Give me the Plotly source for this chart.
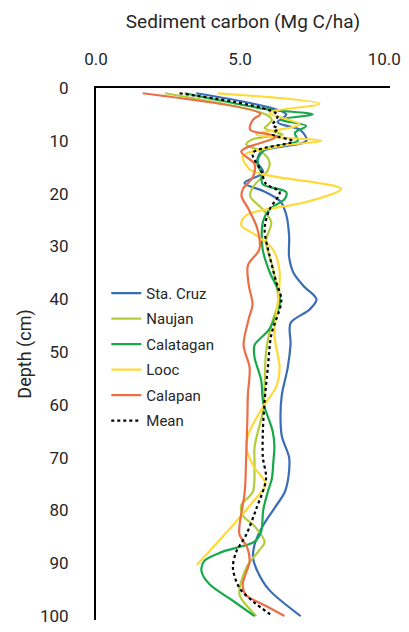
import plotly.graph_objects as go

# Sediment carbon (Mg C/ha) by depth (cm) for each site
sta_cruz_depth = [1, 5, 6.5, 8, 10, 12, 14, 16, 18, 19.5, 21.5, 24, 28, 32, 35, 37.5, 40, 42, 44.5, 48.5, 53, 58, 62, 66, 70, 73.5, 76.5, 79.5, 83, 86.5, 89, 91.5, 95, 100]
sta_cruz_c = [3.48, 6.6, 6.3, 7.1, 7.3, 5.75, 5.6, 5.8, 5.15, 5.8, 6.4, 6.6, 6.7, 6.7, 6.85, 7.2, 7.65, 7.4, 6.75, 6.75, 6.65, 6.45, 6.4, 6.45, 6.7, 6.68, 6.55, 6.2, 5.78, 5.5, 5.45, 5.6, 6.0, 7.1]

naujan_depth = [1, 5, 6, 7, 7.6, 8.8, 9.7, 10.7, 12, 14, 15.7, 18.8, 20.5, 23, 25.4, 29, 34, 39, 41, 44.5, 50, 56, 61, 65, 68, 71.5, 76.5, 79, 81, 83, 86, 87.5, 90.3, 93.4, 96, 100]
naujan_c = [2.39, 5.9, 6.1, 5.96, 5.85, 6.48, 5.44, 5.21, 5.73, 6.02, 5.95, 5.44, 5.35, 5.79, 6.08, 5.9, 6.13, 6.31, 6.31, 6.1, 5.9, 5.85, 5.8, 5.62, 5.5, 5.5, 5.44, 5.04, 5.1, 5.5, 5.85, 5.67, 5.27, 5.04, 4.98, 5.56]

calatagan_depth = [1, 4, 5, 6, 7.2, 8.5, 10, 11.5, 13, 14.4, 16, 18.2, 19.7, 21, 23, 25.4, 30.5, 34.8, 39, 41, 45.6, 48.7, 51, 55.3, 59.5, 65, 68, 70.3, 74, 76.5, 80, 84, 85.9, 87.8, 89.6, 91.5, 94, 97.1, 100]
calatagan_c = [3.08, 5.9, 7.52, 6.4, 7.29, 6.9, 7.0, 5.9, 5.65, 5.6, 5.73, 5.78, 6.6, 6.55, 6.02, 5.79, 5.78, 6.02, 6.37, 6.37, 6.02, 5.5, 5.5, 5.73, 5.8, 6.13, 6.19, 6.16, 6.1, 5.96, 5.8, 5.73, 5.5, 4.4, 3.75, 3.66, 3.94, 4.75, 5.5]

looc_depth = [1, 3, 4.7, 6.9, 8.8, 10, 11, 12.9, 15.4, 16.6, 19.1, 21.6, 24.1, 26, 27.9, 30.5, 34.8, 41, 46.8, 53, 56.6, 60.4, 65, 67.8, 71.5, 75, 78.4, 82.8, 90.3]
looc_c = [4.23, 7.75, 6.02, 7.06, 5.56, 7.81, 6.37, 5.1, 5.33, 6.02, 8.5, 7.29, 5.21, 5.04, 5.56, 6.13, 6.37, 6.3, 6.19, 6.37, 6.25, 5.79, 5.33, 5.21, 5.45, 5.88, 5.44, 4.75, 3.5]

calapan_depth = [1, 4.9, 6, 7.9, 9.2, 12, 14.4, 16.9, 19.1, 20.5, 23, 26.7, 30.5, 33.6, 37.3, 41, 43.7, 48.7, 53, 58, 63, 70, 76.5, 82.8, 84.6, 87.1, 89.6, 94, 96, 98.1, 100]
calapan_c = [1.62, 5.7, 5.45, 5.35, 6.25, 5.04, 5.5, 5.44, 5.1, 5.05, 5.3, 5.6, 5.67, 5.27, 5.3, 5.43, 5.3, 5.12, 5.33, 5.27, 5.25, 5.21, 5.16, 4.98, 4.98, 5.25, 5.33, 5.09, 5.2, 5.9, 6.54]

mean_depth = [1, 5.1, 7, 7.7, 8.8, 10.1, 12.3, 15.7, 18.2, 19.7, 23, 26.7, 31.7, 36.7, 40.2, 46.8, 53.1, 59.3, 65, 70, 74, 79.7, 84.6, 87.8, 90.9, 94.7, 97.2, 100]
mean_c = [2.9, 6.3, 6.13, 6.3, 6.13, 6.83, 5.44, 5.73, 5.9, 6.37, 6.02, 5.85, 6.02, 6.25, 6.43, 6.08, 5.96, 5.85, 5.79, 5.79, 5.9, 5.56, 5.21, 4.87, 4.75, 4.98, 5.44, 6.13]

x_ticks = [0, 5, 10]
y_ticks = [0, 10, 20, 30, 40, 50, 60, 70, 80, 90, 100]

FONT = "Roboto"

series = [
    ("Sta. Cruz", sta_cruz_depth, sta_cruz_c, "#3A6DB5", "solid"),
    ("Naujan", naujan_depth, naujan_c, "#B4CC3A", "solid"),
    ("Calatagan", calatagan_depth, calatagan_c, "#17A84A", "solid"),
    ("Looc", looc_depth, looc_c, "#FFD93A", "solid"),
    ("Calapan", calapan_depth, calapan_c, "#EB6E45", "solid"),
    ("Mean", mean_depth, mean_c, "#000000", "dot"),
]

fig = go.Figure()
for name, depth, carbon, color, dash in series:
    fig.add_trace(go.Scatter(
        x=carbon, y=depth, name=name, mode="lines",
        line=dict(color=color, width=2.2, dash=dash, shape="spline", smoothing=0.9),
        legendgroup=name,
    ))

fig.update_layout(
    width=409, height=632,
    margin=dict(l=96, r=19, t=88, b=6),
    paper_bgcolor="white", plot_bgcolor="white",
    font=dict(family=FONT, size=17, color="#262626"),
    showlegend=True,
    legend=dict(
        x=0.035, y=0.645, xanchor="left", yanchor="top",
        bgcolor="rgba(0,0,0,0)", font=dict(size=15, color="#262626"),
        tracegroupgap=3, itemwidth=30,
    ),
    xaxis=dict(
        side="top", range=[0, 10.2], tickvals=x_ticks, tickformat=".1f",
        showgrid=False, zeroline=False, showline=True, linecolor="black", linewidth=2,
        ticks="", ticklabelstandoff=14,
        title=dict(text="Sediment carbon (Mg C/ha)", font=dict(size=19), standoff=16),
    ),
    yaxis=dict(
        range=[100.75, 0], tickvals=y_ticks, showgrid=False, zeroline=False,
        showline=True, linecolor="black", linewidth=2, ticks="", ticklabelstandoff=22,
        title=dict(text="Depth (cm)", font=dict(size=18), standoff=4),
    ),
)

fig.write_html("out.html")
